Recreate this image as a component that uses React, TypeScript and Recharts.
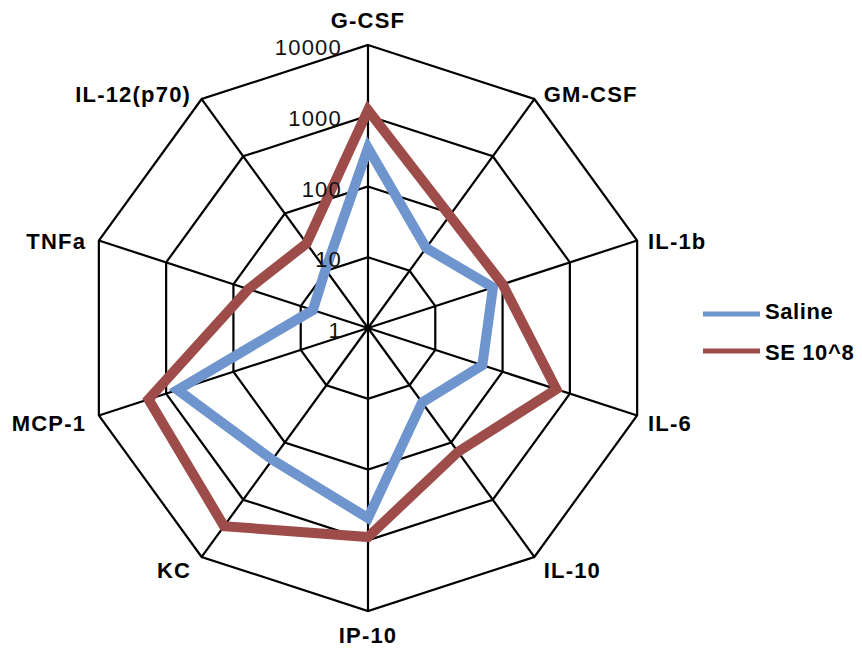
import React from "react";
import {
  RadarChart,
  Radar,
  PolarGrid,
  PolarAngleAxis,
  PolarRadiusAxis,
  Legend,
} from "recharts";

const cytokines = ["G-CSF", "GM-CSF", "IL-1b", "IL-6", "IL-10", "IP-10", "KC", "MCP-1", "TNFa", "IL-12(p70)"];
const saline = [350, 25, 72, 50, 20, 485, 200, 675, 6.6, 10.5];
const se108 = [1200, 92, 100, 630, 146, 900, 2900, 1830, 60, 30];
const radiusTicks = [0, 1, 2, 3, 4]; // log10 of 1, 10, 100, 1000, 10000
const seriesNames = ["Saline", "SE 10^8"];

const BLUE = "#6F95CF";
const RED = "#9E4C4A";
const FONT = "'Liberation Sans', Arial, Helvetica, sans-serif";

const CX = 368;
const CY = 328;
const R = 283;

// Excel-style log axis: plot log10 values, label with the real value
const data = cytokines.map((name, i) => ({
  name,
  saline: Math.log10(saline[i]),
  se: Math.log10(se108[i]),
}));

const AngleTick = (props: any) => {
  const { x, y, payload } = props;
  const a = Math.atan2(CY - y, x - CX);
  const cos = Math.cos(a);
  const sin = Math.sin(a);
  const vx = CX + R * cos;
  const vy = CY - R * sin;
  let anchor = "middle";
  let tx = vx;
  let ty = vy;
  if (Math.abs(cos) < 0.01) {
    ty = sin > 0 ? vy - 17 : vy + 32;
  } else {
    anchor = cos > 0 ? "start" : "end";
    tx = cos > 0 ? vx + 7 + 4 * Math.abs(cos) : vx - (7 + 6 * Math.abs(cos));
    ty = vy + 12 - 11 * sin;
  }
  return (
    <text
      x={tx}
      y={ty}
      textAnchor={anchor}
      fontFamily={FONT}
      fontWeight="bold"
      fontSize={22}
      letterSpacing={1.2}
      fill="#000"
    >
      {payload.value}
    </text>
  );
};

const RadiusTick = (props: any) => {
  const { x, y, payload } = props;
  return (
    <text
      x={x - 26}
      y={y + 10}
      textAnchor="end"
      fontFamily={FONT}
      fontSize={22}
      letterSpacing={1.2}
      fill="#111"
    >
      {Math.round(Math.pow(10, payload.value))}
    </text>
  );
};

// keep the legend in series order (Saline first), as in the original
const LegendBox = ({ payload }: any) => {
  const items = seriesNames
    .map((n) => (payload || []).find((p: any) => p.value === n))
    .filter(Boolean);
  return (
    <svg width={155} height={75}>
      {items.map((entry: any, i: number) => (
        <g key={entry.value}>
          <line x1={0} x2={57} y1={16 + i * 37} y2={16 + i * 37} stroke={entry.color} strokeWidth={5} />
          <text
            x={62}
            y={21 + i * 41}
            fontFamily={FONT}
            fontWeight="bold"
            fontSize={22}
            letterSpacing={0.6}
            fill="#000"
          >
            {entry.value}
          </text>
        </g>
      ))}
    </svg>
  );
};

export default function App() {
  return (
    <div style={{ width: 862, height: 652, margin: -8, background: "#fff" }}>
      <RadarChart
        width={862}
        height={652}
        data={data}
        cx={CX}
        cy={CY}
        outerRadius={R}
        margin={{ top: 0, right: 0, bottom: 0, left: 0 }}
      >
        <PolarGrid gridType="polygon" stroke="#000" strokeWidth={2.2} strokeOpacity={1} />
        <PolarAngleAxis dataKey="name" tick={<AngleTick />} tickLine={false} axisLine={false} />
        <PolarRadiusAxis
          angle={90}
          domain={[0, 4]}
          ticks={radiusTicks}
          tickCount={5}
          type="number"
          axisLine={false}
          tick={<RadiusTick />}
        />
        <Radar
          name={seriesNames[0]}
          dataKey="saline"
          stroke={BLUE}
          strokeWidth={10}
          fill="none"
          fillOpacity={0}
          dot={false}
          legendType="line"
          isAnimationActive={false}
        />
        <Radar
          name={seriesNames[1]}
          dataKey="se"
          stroke={RED}
          strokeWidth={10}
          fill="none"
          fillOpacity={0}
          dot={false}
          legendType="line"
          isAnimationActive={false}
        />
        <Legend
          layout="vertical"
          align="right"
          verticalAlign="middle"
          content={<LegendBox />}
          wrapperStyle={{ position: "absolute", left: 703, top: 298, width: 155, height: 75 }}
        />
      </RadarChart>
    </div>
  );
}
